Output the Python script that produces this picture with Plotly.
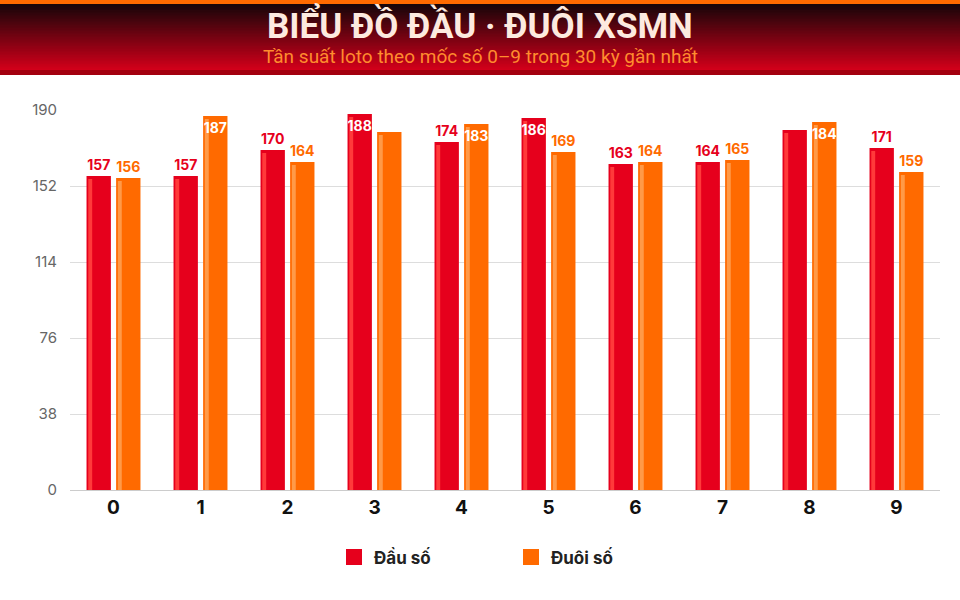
import plotly.graph_objects as go

# --- data
digits = ["0", "1", "2", "3", "4", "5", "6", "7", "8", "9"]
dau_so = [157, 157, 170, 188, 174, 186, 163, 164, 180, 171]
duoi_so = [156, 187, 164, 179, 183, 169, 164, 165, 184, 159]

# labels as shown on the chart ("" = label hidden)
dau_labels = ["157", "157", "170", "188", "174", "186", "163", "164", "", "171"]
duoi_labels = ["156", "187", "164", "", "183", "169", "164", "165", "184", "159"]
# labels drawn inside the top of the bar (white)
dau_inside = [False, False, False, True, False, True, False, False, False, False]
duoi_inside = [False, True, False, False, True, False, False, False, True, False]

title = "BIỂU ĐỒ ĐẦU · ĐUÔI XSMN"
subtitle = "Tần suất loto theo mốc số 0–9 trong 30 kỳ gần nhất"

RED = "#e6001c"
ORANGE = "#ff6a00"

fig = go.Figure()


def add_series(name, values, labels, inside, color, light, offset):
    # bar body
    fig.add_trace(go.Bar(
        x=digits, y=values, name=name, offset=offset, width=0.28,
        marker=dict(color=color, line=dict(width=0)),
        showlegend=False, hoverinfo="skip",
    ))
    # light highlight strip on the left of each bar
    fig.add_trace(go.Bar(
        x=digits, y=[v - 1.5 for v in values], offset=offset + 0.02, width=0.045,
        marker=dict(color=light, line=dict(width=0)), showlegend=False, hoverinfo="skip",
    ))
    # transparent copy carrying the value labels, drawn on top
    fig.add_trace(go.Bar(
        x=digits, y=values, offset=offset, width=0.28,
        marker=dict(color="rgba(0,0,0,0)", line=dict(width=0)),
        text=labels,
        textposition=["inside" if i else "outside" for i in inside],
        insidetextanchor="end", textangle=0, constraintext="none",
        textfont=dict(family="Inter", size=14, weight="bold",
                      color=["#ffffff" if i else color for i in inside]),
        outsidetextfont=dict(family="Inter", size=14, weight="bold", color=color),
        cliponaxis=False, showlegend=False, hoverinfo="skip",
    ))
    # legend entry
    fig.add_trace(go.Scatter(
        x=[None], y=[None], mode="markers", name=name,
        marker=dict(symbol="square", size=18, color=color),
    ))


add_series("Đầu số", dau_so, dau_labels, dau_inside, RED, "#ff3a3a", -0.31)
add_series("Đuôi số", duoi_so, duoi_labels, duoi_inside, ORANGE, "#ff9a48", 0.03)

# header band: gradient made of overlapping stripes (plot area is 110..490 px)
ph = 380.0
cx = (480 - 70) / 870.0  # page centre in paper units


def py(px):
    return (490 - px) / ph


band = dict(type="rect", xref="paper", yref="paper", x0=-70 / 870, x1=1 + 20 / 870,
            line=dict(width=0), layer="above")
shapes = []
top_px, bot_px = 4, 70
n = 44
c0, c1 = (24, 6, 10), (210, 0, 26)
for i in range(n):
    t = i / (n - 1)
    col = "rgb({},{},{})".format(*[int(a + (b - a) * t) for a, b in zip(c0, c1)])
    ya = top_px + (bot_px - top_px) * i / n
    shapes.append(dict(band, y0=py(bot_px), y1=py(ya), fillcolor=col))
shapes.append(dict(band, y0=py(75), y1=py(70), fillcolor="#a3000f"))
shapes.append(dict(band, y0=py(4), y1=py(0), fillcolor=ORANGE))

fig.update_layout(
    width=960, height=600,
    margin=dict(l=70, r=20, t=110, b=110),
    barmode="overlay",
    plot_bgcolor="#ffffff", paper_bgcolor="#ffffff",
    shapes=shapes,
    showlegend=True,
    legend=dict(orientation="h", x=cx + 31 / 870, xanchor="center", y=-0.13, yanchor="top",
                entrywidth=132, font=dict(family="Inter", size=17, color="#222222", weight="bold"),
                traceorder="normal", itemsizing="trace"),
    annotations=[
        dict(text=title, xref="paper", yref="paper", x=cx, y=py(25),
             xanchor="center", yanchor="middle", showarrow=False,
             font=dict(family="Roboto", size=35, color="#fdeadf", weight="bold")),
        dict(text=subtitle, xref="paper", yref="paper", x=cx, y=py(56),
             xanchor="center", yanchor="middle", showarrow=False,
             font=dict(family="Roboto", size=19, color="#ff8c2e")),
    ],
    xaxis=dict(type="category", tickfont=dict(family="Inter", size=19, color="#111111", weight="bold"),
               showgrid=False, showline=True, linecolor="#cccccc", linewidth=1, ticks=""),
    yaxis=dict(range=[0, 190], tickvals=[0, 38, 76, 114, 152, 190],
               tickfont=dict(family="Inter", size=15, color="#666666"),
               showgrid=True, gridcolor="#dddddd", gridwidth=1, zeroline=False, ticklen=0,
               ticklabelstandoff=12),
    font=dict(family="Inter"),
)

fig.write_html("out.html", config={"displayModeBar": False},
               post_script="document.body.style.margin='0';")
